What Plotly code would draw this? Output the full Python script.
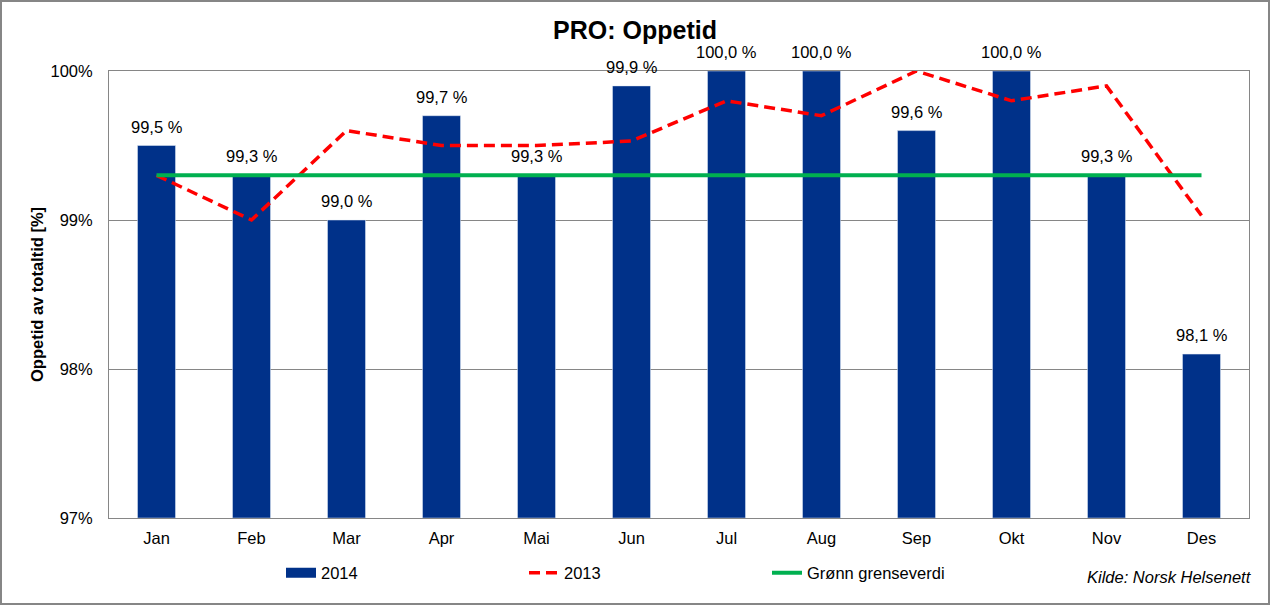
import plotly.graph_objects as go

months = ["Jan", "Feb", "Mar", "Apr", "Mai", "Jun", "Jul", "Aug", "Sep", "Okt", "Nov", "Des"]
values_2014 = [99.5, 99.3, 99.0, 99.7, 99.3, 99.9, 100.0, 100.0, 99.6, 100.0, 99.3, 98.1]
values_2013 = [99.3, 99.0, 99.6, 99.5, 99.5, 99.53, 99.8, 99.7, 100.0, 99.8, 99.9, 99.03]
threshold = [99.3] * 12
labels_2014 = [f"{v:.1f} %".replace(".", ",") for v in values_2014]

BASE = 97
W, H = 1270, 605
ML, MR, MT, MB = 109, 21, 71, 87
PW, PH = W - ML - MR, H - MT - MB
FONT = "Liberation Sans, Arial, sans-serif"
FS = 16.5
NAVY = "#003189"

fig = go.Figure()
fig.add_trace(go.Bar(x=months, y=[v - BASE for v in values_2014], name="2014",
                     marker_color=NAVY, width=0.4, showlegend=False, legendgroup="2014"))
# legend entry for bars drawn as a wide block, as in the reference
fig.add_trace(go.Scatter(x=[None], y=[None], name="2014", mode="lines", legendgroup="2014",
                         line=dict(color=NAVY, width=10)))
fig.add_trace(go.Scatter(x=months, y=[v - BASE for v in values_2013], name="2013", mode="lines",
                         line=dict(color="#FF0000", width=3.5, dash="11px,6px")))
fig.add_trace(go.Scatter(x=months, y=[v - BASE for v in threshold], name="Grønn grenseverdi",
                         mode="lines", line=dict(color="#00B050", width=4)))

for m, v, t in zip(months, values_2014, labels_2014):
    fig.add_annotation(x=m, y=v - BASE, text=t, showarrow=False, yanchor="bottom", yshift=8,
                       font=dict(family=FONT, size=FS, color="#000000"))

fig.add_annotation(xref="paper", yref="paper", x=(W - 16 - ML) / PW, y=-(577 - MT - PH) / PH,
                   text="<i>Kilde: Norsk Helsenett</i>", showarrow=False,
                   xanchor="right", yanchor="middle",
                   font=dict(family=FONT, size=FS, color="#000000"))

# outer frame
fig.add_shape(type="rect", xref="paper", yref="paper",
              x0=-(ML - 1) / PW, x1=1 + (MR - 1) / PW,
              y0=-(MB - 1) / PH, y1=1 + (MT - 1) / PH,
              line=dict(color="#868686", width=2), layer="below")

fig.update_layout(
    width=W, height=H,
    margin=dict(l=ML, r=MR, t=MT, b=MB, autoexpand=False),
    paper_bgcolor="white", plot_bgcolor="white",
    font=dict(family=FONT, size=FS, color="#000000"),
    title=dict(text="<b>PRO: Oppetid</b>", x=0.5, xanchor="center",
               y=1 - 30 / H, yanchor="middle", yref="container",
               font=dict(family=FONT, size=25, color="#000000")),
    barmode="overlay",
    showlegend=True,
    legend=dict(orientation="h", x=(281 - ML) / PW, xanchor="left",
                y=-(573 - MT - PH) / PH, yanchor="middle",
                entrywidth=198, entrywidthmode="pixels",
                font=dict(family=FONT, size=FS), bgcolor="rgba(0,0,0,0)",
                traceorder="normal"),
    xaxis=dict(showline=True, linecolor="#868686", linewidth=1, mirror=True,
               ticks="outside", ticklen=5, tickcolor="white",
               tickfont=dict(size=FS), showgrid=False, automargin=False),
    yaxis=dict(range=[0, 3], tickvals=[0, 1, 2, 3],
               ticktext=["97%", "98%", "99%", "100%"],
               showgrid=True, gridcolor="#868686", gridwidth=1,
               showline=True, linecolor="#868686", linewidth=1, mirror=True,
               ticks="outside", ticklen=12, tickcolor="white",
               tickfont=dict(size=FS), automargin=False,
               title=dict(text="<b>Oppetid av totaltid [%]</b>", standoff=2,
                          font=dict(size=FS)),
               zeroline=False),
)

fig.write_html("out.html", config={"displayModeBar": False},
               post_script="document.body.style.margin='0';")
